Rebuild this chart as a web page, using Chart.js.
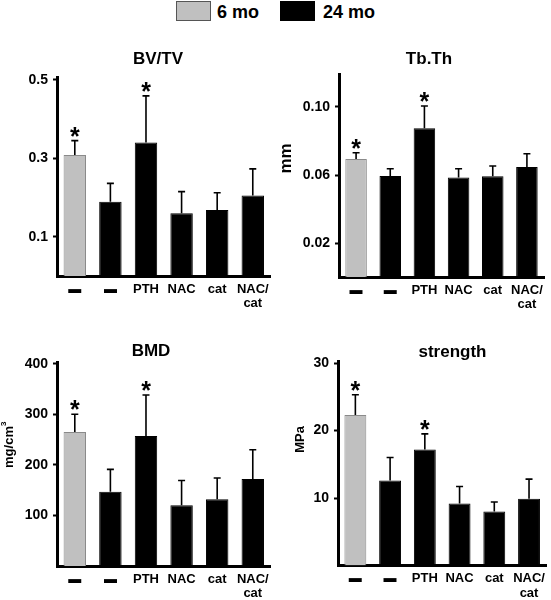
<!DOCTYPE html>
<html>
<head>
<meta charset="utf-8">
<script src="https://cdn.jsdelivr.net/npm/chart.js@4.4.1/dist/chart.umd.min.js"></script>
<style>
  body { margin: 0; width: 551px; height: 600px; position: relative; overflow: hidden; background: #fff;
         font-family: 'Liberation Sans', Arial, sans-serif; }
  canvas { position: absolute; }
  .swatch { position: absolute; top: 1px; box-sizing: border-box; width: 35px; height: 20px; }
  .legend-text { position: absolute; top: 2px; font-weight: bold; font-size: 18px; line-height: 20px; }
</style>
</head>
<body>
<canvas id="bvtvChart" width="275" height="285" style="left:0;top:30px"></canvas>
<canvas id="tbthChart" width="276" height="285" style="left:275px;top:30px"></canvas>
<canvas id="bmdChart" width="275" height="285" style="left:0;top:315px"></canvas>
<canvas id="strengthChart" width="276" height="285" style="left:275px;top:315px"></canvas>

<script>
// groups on the x axis (first bar is the 6 month control)
const groups = ["▬", "▬", "PTH", "NAC", "cat", ["NAC/", "cat"]];
const ages = ["6 mo", "24 mo", "24 mo", "24 mo", "24 mo", "24 mo"];
const significant = [true, false, true, false, false, false];

const bvtv = [0.308, 0.189, 0.340, 0.160, 0.168, 0.205];
const bvtvErr = [0.037, 0.047, 0.119, 0.055, 0.044, 0.068];
const bvtvTicks = [0.1, 0.3, 0.5];

const tbth = [0.0694, 0.0594, 0.0875, 0.0586, 0.0592, 0.0647];
const tbthErr = [0.0037, 0.0043, 0.0131, 0.0051, 0.0061, 0.0078];
const tbthTicks = [0.02, 0.06, 0.10];

const bmd = [265, 147, 257, 120, 132, 172];
const bmdErr = [35, 44, 81, 49, 42, 58];
const bmdTicks = [100, 200, 300, 400];

const strength = [22.3, 12.6, 17.2, 9.2, 8.0, 9.9];
const strengthErr = [3.0, 3.4, 2.3, 2.5, 1.4, 2.9];
const strengthTicks = [10, 20, 30];

const ageColors = { "6 mo": "#c0c0c0", "24 mo": "#000000" };
const ageBorders = { "6 mo": "#8a8a8a", "24 mo": "#000000" };

const FONT = "'Liberation Sans', Arial, sans-serif";
Chart.defaults.font.family = FONT;
Chart.defaults.font.weight = "bold";
Chart.defaults.color = "#000";

// legend across the top
const legendPos = [{ box: 176, text: 217 }, { box: 280, text: 323 }];
Object.keys(ageColors).forEach((age, i) => {
  const sw = document.createElement("div");
  sw.className = "swatch";
  sw.style.left = legendPos[i].box + "px";
  sw.style.background = ageColors[age];
  sw.style.border = "1px solid " + (i === 0 ? "#555" : "#000");
  document.body.appendChild(sw);
  const t = document.createElement("div");
  t.className = "legend-text";
  t.style.left = legendPos[i].text + "px";
  t.textContent = age;
  document.body.appendChild(t);
});

function makePanel(cfg) {
  const textPlugin = {
    id: "panelText",
    afterDatasetsDraw(chart) {
      const ctx = chart.ctx;
      const y = chart.scales.y;
      const meta = chart.getDatasetMeta(0);
      ctx.save();
      ctx.strokeStyle = "#000";
      ctx.fillStyle = "#000";
      ctx.lineWidth = 1.6;
      meta.data.forEach((bar, i) => {
        const top = y.getPixelForValue(cfg.values[i] + cfg.errors[i]);
        ctx.beginPath();
        ctx.moveTo(bar.x, bar.y);
        ctx.lineTo(bar.x, top);
        ctx.moveTo(bar.x - 3.5, top);
        ctx.lineTo(bar.x + 3.5, top);
        ctx.stroke();
        if (significant[i]) {
          ctx.font = "bold 25px " + FONT;
          ctx.textAlign = "center";
          ctx.textBaseline = "alphabetic";
          ctx.fillText("*", bar.x, top + 4);
        }
      });
      // panel title
      ctx.font = "bold 17px " + FONT;
      ctx.textAlign = "center";
      ctx.textBaseline = "middle";
      ctx.fillText(cfg.title, cfg.titlePos[0], cfg.titlePos[1]);
      // y axis title
      if (cfg.yTitle) {
        ctx.translate(cfg.yTitlePos[0], cfg.yTitlePos[1]);
        ctx.rotate(-Math.PI / 2);
        ctx.font = "bold " + cfg.yTitleSize + "px " + FONT;
        ctx.fillText(cfg.yTitle, 0, 0);
        if (cfg.yTitleSup) {
          const w = ctx.measureText(cfg.yTitle).width;
          ctx.font = "bold " + Math.round(cfg.yTitleSize * 0.65) + "px " + FONT;
          ctx.textAlign = "left";
          ctx.fillText(cfg.yTitleSup, w / 2, -5);
        }
      }
      ctx.restore();
    }
  };

  return new Chart(document.getElementById(cfg.id), {
    type: "bar",
    data: {
      labels: groups,
      datasets: [{
        label: cfg.title,
        data: cfg.values,
        backgroundColor: ages.map(a => ageColors[a]),
        borderColor: ages.map(a => ageBorders[a]),
        borderWidth: 1,
        barPercentage: 0.63,
        categoryPercentage: 1
      }]
    },
    options: {
      responsive: false,
      animation: false,
      layout: { padding: { top: cfg.padTop, right: cfg.padRight, left: 0, bottom: 0 } },
      plugins: { legend: { display: false }, tooltip: { enabled: false } },
      scales: {
        x: {
          grid: { display: false, drawTicks: false },
          border: { display: true, color: "#000", width: 3 },
          ticks: {
            padding: 6,
            maxRotation: 0,
            autoSkip: false,
            font: { size: 13, weight: "bold", lineHeight: 1.1 }
          },
          afterFit: s => { s.height = cfg.xHeight; }
        },
        y: {
          min: 0,
          max: cfg.max,
          grid: { display: true, drawOnChartArea: false, drawTicks: true, tickLength: 4, tickWidth: 2, tickColor: "#000" },
          border: { display: true, color: "#000", width: 3 },
          ticks: {
            padding: 5,
            font: { size: 14, weight: "bold" },
            callback: v => Number(v).toFixed(cfg.decimals)
          },
          afterBuildTicks: s => { s.ticks = cfg.ticks.map(v => ({ value: v })); },
          afterFit: s => { s.width = cfg.yWidth; }
        }
      }
    },
    plugins: [textPlugin]
  });
}

makePanel({
  id: "bvtvChart", title: "BV/TV", values: bvtv, errors: bvtvErr, ticks: bvtvTicks,
  max: 0.505, decimals: 1, padTop: 47.8, padRight: 4, xHeight: 39, yWidth: 57,
  titlePos: [158, 29]
});
makePanel({
  id: "tbthChart", title: "Tb.Th", values: tbth, errors: tbthErr, ticks: tbthTicks,
  max: 0.119, decimals: 2, padTop: 44.7, padRight: 7, xHeight: 38, yWidth: 64,
  titlePos: [154, 29.5], yTitle: "mm", yTitleSize: 17, yTitlePos: [11, 128.5]
});
makePanel({
  id: "bmdChart", title: "BMD", values: bmd, errors: bmdErr, ticks: bmdTicks,
  max: 402, decimals: 0, padTop: 47.7, padRight: 4, xHeight: 34, yWidth: 57,
  titlePos: [151, 36.5], yTitle: "mg/cm", yTitleSup: "3", yTitleSize: 13, yTitlePos: [9, 132]
});
makePanel({
  id: "strengthChart", title: "strength", values: strength, errors: strengthErr, ticks: strengthTicks,
  max: 30.2, decimals: 0, padTop: 46.7, padRight: 1, xHeight: 34.5, yWidth: 63,
  titlePos: [177.5, 37], yTitle: "MPa", yTitleSize: 13, yTitlePos: [25, 124.5]
});
</script>
</body>
</html>
